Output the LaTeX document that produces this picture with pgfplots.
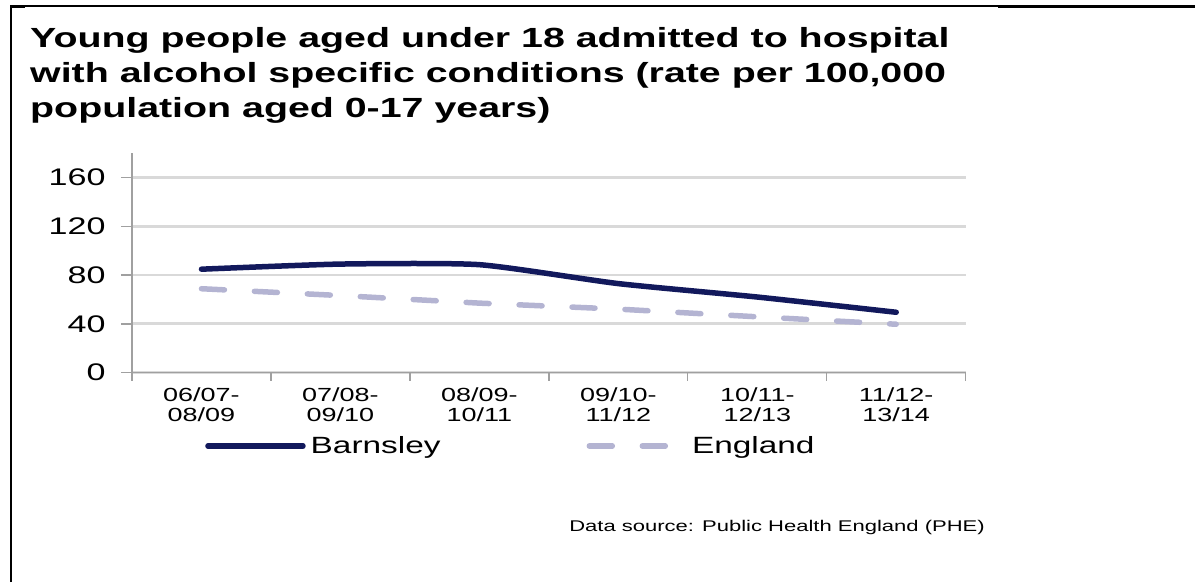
\documentclass[border=0pt]{standalone}
\usepackage{pgfplots}
\pgfplotsset{compat=1.18}
\usepackage{fontspec}
\setmainfont{Liberation Sans}[FakeStretch=1.42]
\definecolor{barn}{RGB}{18,25,92}
\definecolor{eng}{RGB}{180,180,210}
\definecolor{gridc}{RGB}{217,217,217}
\definecolor{axc}{RGB}{160,160,160}
\begin{document}
\begin{tikzpicture}
\path[use as bounding box] (0pt,0pt) rectangle (1195pt,582pt);
% frame
\draw[line width=1.5pt] (11pt,0pt) -- (11pt,576pt) -- (998pt,576pt);
\draw[line width=2.5pt] (998pt,575.5pt) -- (1195pt,575.5pt);
\draw[line width=2.5pt] (11pt,575.5pt) -- (25pt,575.5pt);
% title
\node[anchor=base west, inner sep=0pt, font=\fontsize{27.7}{34}\selectfont\bfseries] at (30pt,534pt) {Young people aged under 18 admitted to hospital};
\node[anchor=base west, inner sep=0pt, font=\fontsize{27.7}{34}\selectfont\bfseries] at (30pt,499pt) {with alcohol specific conditions (rate per 100,000};
\node[anchor=base west, inner sep=0pt, font=\fontsize{27.7}{34}\selectfont\bfseries] at (30pt,464pt) {population aged 0-17 years)};
% source
\node[anchor=base east, inner sep=0pt, font=\fontsize{15.5}{18}\selectfont] at (985pt,51pt) {Data source: Public Health England (PHE)};
\begin{axis}[
  at={(132pt,209.3pt)}, anchor=south west,
  scale only axis, width=833.7pt, height=219.7pt,
  xmin=-0.5, xmax=5.5, ymin=0, ymax=180,
  axis x line*=bottom, axis y line*=left,
  axis line style={axc, line width=1.3pt, -},
  xtick={0,...,5},
  xticklabels={{06/07-\\08/09},{07/08-\\09/10},{08/09-\\10/11},{09/10-\\11/12},{10/11-\\12/13},{11/12-\\13/14}},
  minor xtick={-0.5,0.5,...,5.5},
  ytick={0,40,...,160},
  tick align=outside,
  major tick length=11pt, minor tick length=8pt,
  major x tick style={draw=none},
  every tick/.style={axc, line width=1.3pt},
  ymajorgrids, grid style={gridc, line width=2.8pt},
  /pgf/number format/assume math mode=true,
  yticklabel style={font=\fontsize{24}{28}\selectfont, xshift=-12pt},
  xticklabel style={font=\fontsize{19}{20}\selectfont, align=center},
  legend columns=2,
  legend style={at={(axis description cs:0.0876,-0.3336)}, anchor=west, draw=none, fill=none, inner sep=0pt,
    font=\fontsize{23.5}{28}\selectfont,
    nodes={inner sep=0pt},
    /tikz/every odd column/.append style={column sep=5pt},
    /tikz/every even column/.append style={column sep=146pt}},
  legend image code/.code={\draw[#1] (0pt,0pt) -- (95pt,0pt);},
]
\addplot[barn, line width=5.5pt, line cap=round, smooth, tension=0.35] coordinates {(0,84.8) (1,89.0) (2,88.5) (3,73.0) (4,62.0) (5,49.5)};
\addlegendentry{Barnsley}
\addplot[eng, line width=5.5pt, line cap=round, dash pattern=on 23pt off 30pt] coordinates {(0,68.8) (1,63.2) (2,57.0) (3,52.1) (4,45.8) (5,39.7)};
\addlegendentry{England}
\end{axis}
\end{tikzpicture}
\end{document}
